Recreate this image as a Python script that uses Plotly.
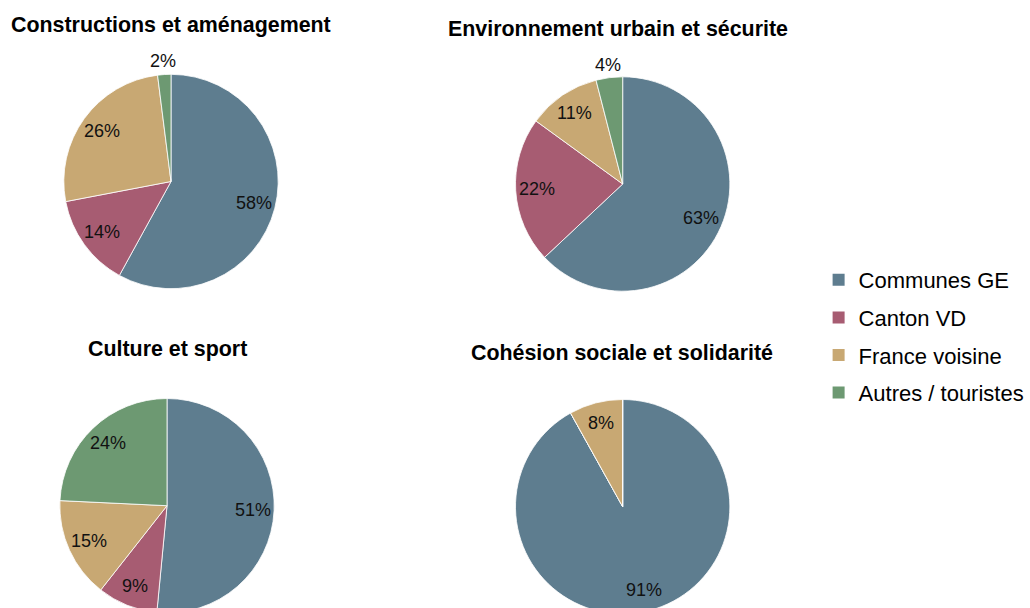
import math
import plotly.graph_objects as go

# Categories shared by all four pies (legend order)
categories = ["Communes GE", "Canton VD", "France voisine", "Autres / touristes"]
colors = ["#5E7D8F", "#A75C72", "#C8A873", "#6D9972"]

# Shares (%) per domain, in category order
titles = [
    "Constructions et aménagement",
    "Environnement urbain et sécurite",
    "Culture et sport",
    "Cohésion sociale et solidarité",
]
constructions = [58, 14, 26, 2]
environnement = [63, 22, 11, 4]
culture = [51, 9, 15, 24]
cohesion = [91, 0, 8, 0]
series = [constructions, environnement, culture, cohesion]

# Page geometry (pixels)
W, H = 1030, 620
R = 107.5
centers = [(171.5, 181.5), (624.5, 184.0), (167.5, 505.7), (624.5, 506.7)]
title_pos = [(171, 25), (620, 29), (168, 349), (624, 352.5)]

FONT = "Liberation Sans, Arial, sans-serif"


def px(x, y):
    return x / W, 1 - y / H


fig = go.Figure()
annotations = []

for name, vals, (cx, cy), (tx, ty) in zip(titles, series, centers, title_pos):
    x0, y1 = px(cx - R, cy - R)
    x1, y0 = px(cx + R, cy + R)
    fig.add_trace(go.Pie(
        labels=categories,
        values=vals,
        name=name,
        sort=False,
        direction="clockwise",
        rotation=0,
        marker=dict(colors=colors, line=dict(color="white", width=0.8)),
        textinfo="none",
        hoverinfo="label+value",
        showlegend=False,
        domain=dict(x=[x0, x1], y=[y0, y1]),
    ))

    # Title above each pie
    ax, ay = px(tx, ty)
    annotations.append(dict(
        x=ax, y=ay, xref="paper", yref="paper", text=f"<b>{name}</b>",
        showarrow=False, xanchor="center", yanchor="middle",
        font=dict(family=FONT, size=21.4, color="#000000"),
    ))

    # Percentage labels at the mid-angle of each slice
    total = sum(vals)
    cum = 0
    for v in vals:
        if v <= 0:
            continue
        frac = v / total
        mid = cum + frac / 2
        cum += frac
        theta = 2 * math.pi * mid
        k = 1.12 if frac < 0.05 else 0.8
        lx = cx + k * R * math.sin(theta)
        ly = cy - k * R * math.cos(theta)
        axp, ayp = px(lx, ly)
        annotations.append(dict(
            x=axp, y=ayp, xref="paper", yref="paper", text=f"{v}%",
            showarrow=False, xanchor="center", yanchor="middle",
            font=dict(family=FONT, size=18, color="#111111"),
        ))

# Legend entries (one group each so the gap between rows can be set)
for cat, col in zip(categories, colors):
    fig.add_trace(go.Scatter(
        x=[None], y=[None], mode="markers", name=cat, legendgroup=cat,
        marker=dict(symbol="square", size=12, color=col),
        hoverinfo="skip", showlegend=True,
    ))

lx, ly = px(821, 259)
fig.update_layout(
    width=W, height=H,
    margin=dict(l=0, r=0, t=0, b=0),
    paper_bgcolor="white", plot_bgcolor="white",
    xaxis=dict(visible=False), yaxis=dict(visible=False),
    annotations=annotations,
    legend=dict(
        x=lx, y=ly, xanchor="left", yanchor="top",
        font=dict(family=FONT, size=22, color="#000000"),
        tracegroupgap=6, bgcolor="rgba(0,0,0,0)",
    ),
    font=dict(family=FONT),
)

fig.write_html(
    "out.html",
    config={"displayModeBar": False},
    post_script="document.documentElement.style.overflow='hidden';"
                "document.body.style.overflow='hidden';"
                "document.body.style.margin='0';",
)
